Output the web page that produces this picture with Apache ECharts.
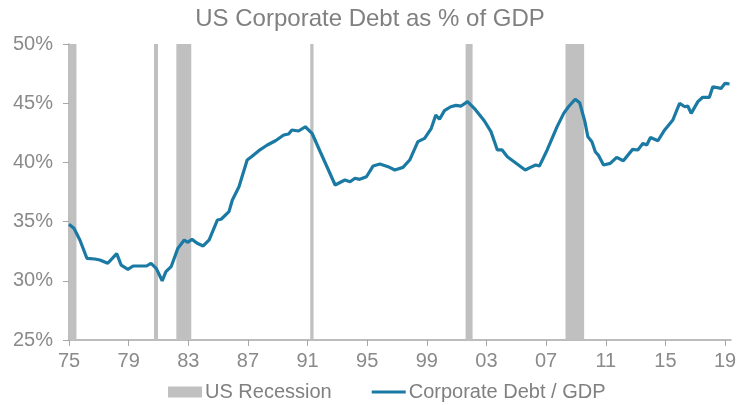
<!DOCTYPE html>
<html>
<head>
<meta charset="utf-8">
<script src="https://cdn.jsdelivr.net/npm/echarts@6/dist/echarts.min.js"></script>
<style>html,body{margin:0;padding:0;background:#fff}#c{width:740px;height:405px}</style>
</head>
<body>
<div id="c"></div>
<script>
var BASE_YEAR = 1975;
var years = [1975.0,1975.33,1975.73,1976.2,1976.73,1977.07,1977.6,1978.2,1978.5,1978.95,1979.3,1980.2,1980.5,1980.85,1981.25,1981.5,1981.85,1982.3,1982.73,1982.95,1983.25,1983.6,1984.0,1984.4,1984.95,1985.2,1985.73,1985.95,1986.4,1986.95,1987.3,1987.73,1988.3,1988.85,1989.4,1989.73,1989.95,1990.4,1990.85,1991.3,1991.85,1992.4,1992.85,1993.5,1993.85,1994.18,1994.5,1994.95,1995.4,1995.85,1996.4,1996.85,1997.4,1997.85,1998.4,1998.85,1999.3,1999.6,1999.85,2000.18,2000.6,2000.95,2001.3,2001.73,2002.18,2002.85,2003.3,2003.73,2004.05,2004.4,2004.85,2005.6,2005.95,2006.3,2006.55,2007.07,2007.73,2008.18,2008.5,2008.95,2009.25,2009.6,2009.8,2010.07,2010.3,2010.5,2010.85,2011.3,2011.73,2012.18,2012.8,2013.15,2013.5,2013.75,2014.0,2014.5,2014.95,2015.5,2015.95,2016.3,2016.5,2016.73,2017.18,2017.5,2017.95,2018.18,2018.73,2019.0,2019.3];
var debtPct = [34.77,34.43,33.45,31.9,31.84,31.76,31.48,32.3,31.33,30.97,31.25,31.25,31.48,31.05,30.0,30.77,31.19,32.74,33.45,33.25,33.5,33.17,32.94,33.45,35.13,35.2,35.84,36.8,37.95,40.2,40.54,40.99,41.47,41.83,42.31,42.4,42.74,42.65,43.01,42.46,40.9,39.36,38.09,38.51,38.37,38.66,38.57,38.79,39.7,39.86,39.64,39.36,39.58,40.2,41.75,42.03,42.88,44.0,43.64,44.37,44.7,44.82,44.76,45.13,44.57,43.52,42.6,41.05,41.05,40.48,40.06,39.36,39.58,39.78,39.69,41.05,43.0,44.14,44.7,45.33,45.04,43.44,42.17,41.75,40.9,40.62,39.78,39.92,40.43,40.14,41.1,41.05,41.61,41.47,42.1,41.83,42.74,43.58,44.99,44.7,44.76,44.14,45.13,45.5,45.5,46.39,46.25,46.68,46.62];
var recessionStart = [1975.0,1980.7,1982.2,1991.18,2001.6,2008.3];
var recessionEnd   = [1975.5,1980.97,1983.2,1991.4,2002.07,2009.55];
var yTicks = [25,30,35,40,45,50];

var FONT = '"Liberation Sans",Arial,sans-serif';
var GRAY = '#8a8a8a';
var lineData = years.map(function(y,i){return [y-BASE_YEAR, debtPct[i]];});
var areas = recessionStart.map(function(s,i){return [{xAxis:s-BASE_YEAR},{xAxis:recessionEnd[i]-BASE_YEAR}];});

var chart = echarts.init(document.getElementById('c'), null, {renderer:'canvas'});
chart.setOption({
  animation:false,
  backgroundColor:'#fff',
  title:{text:'US Corporate Debt as % of GDP',left:'center',top:2,
    textStyle:{fontFamily:FONT,fontSize:24,fontWeight:'normal',color:'#808080'}},
  grid:{left:69,right:9,top:44,bottom:65},
  legend:{bottom:3,left:168,padding:0,itemGap:40,itemWidth:34,itemHeight:11,
    textStyle:{fontFamily:FONT,fontSize:20,color:'#808080',padding:[0,0,0,-2]},
    data:[{name:'US Recession',icon:'rect',itemStyle:{color:'#c0c0c0'}},
          {name:'Corporate Debt / GDP',icon:'path://M0,4L34,4L34,7L0,7Z'}]},
  xAxis:{type:'value',min:0,max:44.4,interval:4,
    axisLine:{show:true,lineStyle:{color:'#a6a6a6',width:1.5}},
    axisTick:{show:true,length:6,lineStyle:{color:'#a6a6a6'}},
    splitLine:{show:false},
    axisLabel:{fontFamily:FONT,fontSize:20,color:GRAY,margin:11,showMaxLabel:false,
      formatter:function(v){var y=(BASE_YEAR+v)%100;return (y<10?'0':'')+y;}}},
  yAxis:{type:'value',min:yTicks[0],max:yTicks[yTicks.length-1],interval:5,
    axisLine:{show:true,lineStyle:{color:'#a6a6a6',width:1.5}},
    axisTick:{show:true,length:6,lineStyle:{color:'#a6a6a6'}},
    splitLine:{show:false},
    axisLabel:{fontFamily:FONT,fontSize:20,color:GRAY,margin:16,
      formatter:function(v){return v+'%';}}},
  series:[
    {name:'US Recession',type:'line',data:[],color:'#c0c0c0',
      markArea:{silent:true,itemStyle:{color:'#c0c0c0',opacity:1},data:areas}},
    {name:'Corporate Debt / GDP',type:'line',data:lineData,showSymbol:false,
      color:'#1b7aa3',lineStyle:{width:3.2,color:'#1b7aa3'},z:5}
  ]
});
</script>
</body>
</html>
